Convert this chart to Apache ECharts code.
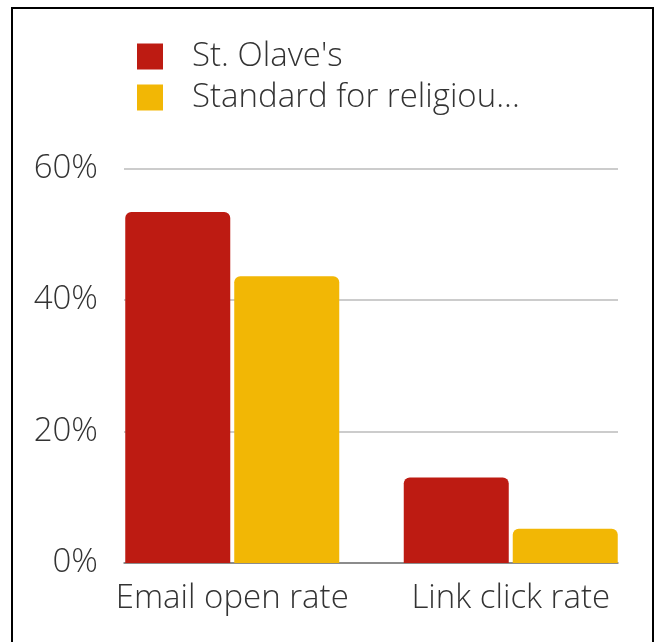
<!DOCTYPE html>
<html>
<head>
<meta charset="utf-8">
<script src="https://cdn.jsdelivr.net/npm/echarts@6/dist/echarts.min.js"></script>
<style>
  html, body { margin: 0; padding: 0; background: #fff; }
  #frame { position: absolute; left: 11px; top: 7px; width: 639px; height: 700px; border: 2px solid #000; border-bottom: none; }
  #chart { position: absolute; left: 0; top: 0; width: 656px; height: 642px; }
</style>
</head>
<body>
<div id="frame"></div>
<div id="chart"></div>
<script>
const categories = ['Email open rate', 'Link click rate'];
const seriesNames = ["St. Olave's", 'Standard for religiou...'];
const stOlavesValues = [53.4, 13.0];
const standardValues = [43.6, 5.2];
const yTicks = [0, 20, 40, 60];

const font = '"Open Sans", "Noto Sans", sans-serif';
const chart = echarts.init(document.getElementById('chart'), null, { renderer: 'canvas' });
chart.setOption({
  animation: false,
  backgroundColor: 'transparent',
  legend: {
    orient: 'vertical',
    left: 137,
    top: 36,
    padding: 0,
    itemWidth: 26,
    itemHeight: 26,
    itemGap: 0,
    icon: 'rect',
    itemStyle: { borderRadius: 3 },
    textStyle: { fontFamily: font, fontSize: 33, fontWeight: 300, color: '#333', lineHeight: 41, padding: [0, 0, 0, 24] },
    data: seriesNames
  },
  grid: [
    { left: 93, right: 6, top: 168.5, bottom: 79 },
    { left: 124, right: 38, top: 168.5, bottom: 79 }
  ],
  xAxis: [
    {
      type: 'category', gridIndex: 0, data: categories,
      axisLine: { show: false }, axisTick: { show: false },
      axisLabel: { interval: 0, fontFamily: font, fontSize: 33, fontWeight: 300, color: '#333', margin: 19 }
    },
    {
      type: 'category', gridIndex: 1, data: categories,
      axisLine: { show: true, lineStyle: { color: '#777', width: 1.5 } },
      axisTick: { show: false }, axisLabel: { show: false }
    }
  ],
  yAxis: [
    { type: 'value', gridIndex: 0, min: yTicks[0], max: yTicks[yTicks.length - 1], interval: 20, show: false, splitLine: { show: false } },
    {
      type: 'value', gridIndex: 1, min: yTicks[0], max: yTicks[yTicks.length - 1], interval: 20,
      axisLine: { show: false }, axisTick: { show: false },
      axisLabel: { fontFamily: font, fontSize: 33, fontWeight: 300, color: '#333', margin: 26, formatter: '{value}%' },
      splitLine: { lineStyle: { color: '#bbb', width: 1.5 } }
    }
  ],
  series: [
    {
      name: seriesNames[0], type: 'bar', xAxisIndex: 0, yAxisIndex: 0, z: 3,
      data: stOlavesValues, barWidth: 105, barGap: '3.8%',
      itemStyle: { color: '#BD1B12', borderRadius: [6, 6, 0, 0] }
    },
    {
      name: seriesNames[1], type: 'bar', xAxisIndex: 0, yAxisIndex: 0, z: 3,
      data: standardValues, barWidth: 105, barGap: '3.8%',
      itemStyle: { color: '#F2B705', borderRadius: [6, 6, 0, 0] }
    }
  ]
});
</script>
</body>
</html>
